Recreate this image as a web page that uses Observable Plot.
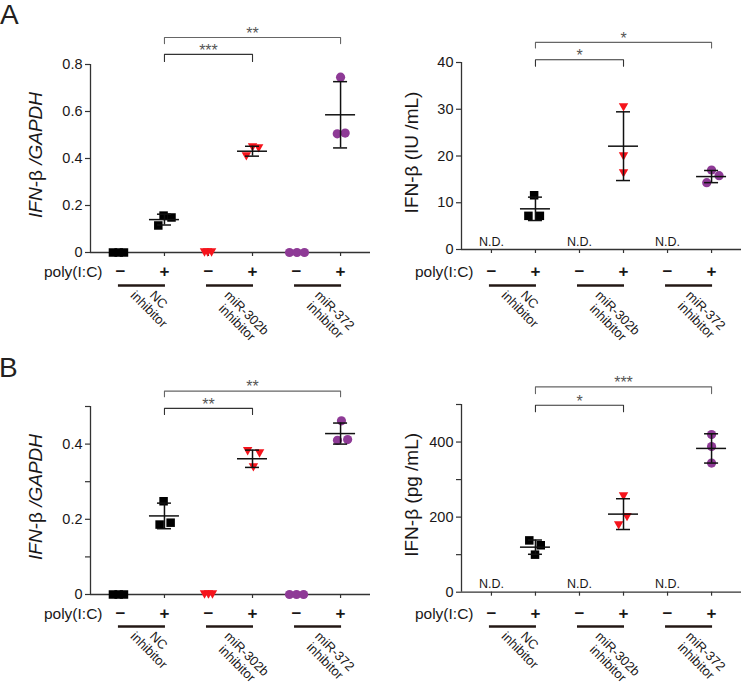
<!DOCTYPE html>
<html>
<head>
<meta charset="utf-8">
<script src="https://cdn.jsdelivr.net/npm/d3@7"></script>
<script src="https://cdn.jsdelivr.net/npm/@observablehq/plot@0.6"></script>
<style>
  html, body { margin: 0; padding: 0; background: #fff; }
  #root { position: relative; width: 742px; height: 686px; overflow: hidden;
          font-family: "Liberation Sans", Arial, sans-serif; color: #231f20; }
  .panel { position: absolute; width: 371px; height: 343px; }
  .letter { position: absolute; font-size: 28px; line-height: 28px; color: #231f20; }
</style>
</head>
<body>
<div id="root"></div>
<script>
// ---------------- categories / labels ----------------
const inhibitors = ["NC\ninhibitor", "miR-302b\ninhibitor", "miR-372\ninhibitor"];
const polyIC = ["−", "+", "−", "+", "−", "+"];
const polyLabel = "poly(I:C)";
const notDetected = "N.D.";
const groupColors = ["#000000", "#f5141c", "#8e3a96"];

// ---------------- Panel A left: IFN-β / GAPDH ----------------
const aMrna       = [[0, 0, 0], [0.115, 0.157, 0.149], [0, 0, 0], [0.409, 0.447, 0.443], [0, 0, 0], [0.746, 0.505, 0.508]];
const aMrnaJitter = [[-0.17, -0.04, 0.08], [-0.14, -0.02, 0.16], [-0.09, -0.02, 0.07], [-0.14, 0, 0.14], [-0.16, 0.01, 0.18], [0, -0.075, 0.105]];
const aMrnaMean   = [0.140, 0.431, 0.586];
const aMrnaSD     = [0.023, 0.021, 0.141];
const aMrnaTicks  = [0, 0.2, 0.4, 0.6, 0.8];
const aMrnaTickLabels = [0, 0.2, 0.4, 0.6, 0.8];
const aMrnaSig    = [{from: 1, to: 3, text: "***"}, {from: 1, to: 5, text: "**"}];
const aMrnaBracketY = [[0.843, 0.813], [0.915, 0.889]];

// ---------------- Panel A right: IFN-β (IU/mL) ----------------
const aProt       = [null, [11.6, 7.2, 7.2], null, [30.4, 19.9, 16.3], null, [17.0, 15.8, 14.3]];
const aProtJitter = [null, [-0.03, -0.16, 0.10], null, [0, 0, 0], null, [0, 0.17, -0.11]];
const aProtMean   = [8.7, 22.1, 15.6];
const aProtSD     = [2.5, 7.35, 1.3];
const aProtTicks  = [0, 10, 20, 30, 40];
const aProtTickLabels = [0, 10, 20, 30, 40];
const aProtSig    = [{from: 1, to: 3, text: "*"}, {from: 1, to: 5, text: "*"}];
const aProtBracketY = [[40.6, 39.2], [44.3, 43.1]];

// ---------------- Panel B left: IFN-β / GAPDH ----------------
const bMrna       = [[0, 0, 0], [0.248, 0.186, 0.191], [0, 0, 0], [0.381, 0.375, 0.338], [0, 0, 0], [0.462, 0.410, 0.412]];
const bMrnaJitter = [[-0.17, -0.04, 0.08], [-0.02, -0.11, 0.14], [-0.09, 0, 0.09], [-0.11, 0.16, 0.02], [-0.16, 0, 0.16], [0.02, -0.07, 0.16]];
const bMrnaMean   = [0.209, 0.361, 0.428];
const bMrnaSD     = [0.034, 0.023, 0.028];
const bMrnaTicks  = [0, 0.1, 0.2, 0.3, 0.4, 0.5];
const bMrnaTickLabels = [0, 0.2, 0.4];
const bMrnaSig    = [{from: 1, to: 3, text: "**"}, {from: 1, to: 5, text: "**"}];
const bMrnaBracketY = [[0.495, 0.479], [0.541, 0.526]];

// ---------------- Panel B right: IFN-β (pg/mL) ----------------
const bProt       = [null, [138, 125, 100], null, [255, 200, 178], null, [420, 388, 344]];
const bProtJitter = [null, [-0.14, 0.12, -0.01], null, [0, 0.08, -0.11], null, [0, 0, 0]];
const bProtMean   = [120, 208, 383];
const bProtSD     = [19, 41, 39];
const bProtTicks  = [0, 100, 200, 300, 400, 500];
const bProtTickLabels = [0, 200, 400];
const bProtSig    = [{from: 1, to: 3, text: "*"}, {from: 1, to: 5, text: "***"}];
const bProtBracketY = [[498, 481], [547, 529]];

// y-axis titles (italic flags per part)
const mrnaTitle = [{t: "IFN-", i: true}, {t: "β", i: false}, {t: " /GAPDH", i: true}];
const iuTitle = [{t: "IFN-β (IU /mL)", i: false}];
const pgTitle = [{t: "IFN-β (pg /mL)", i: false}];

// ---------------- layout ----------------
const FONT = '"Liberation Sans", Arial, sans-serif';
const W = 371, H = 343, ML = 90, MR = 1;
const xDomain = [-0.68, 5.68];
const INK = "#1a1718";
const AXIS = "#333333";

const panels = [
  {left: 0,   top: 0,   mt: 64, axisY: 252,   yMax: 0.8, pm: 271, line: 285, labelTop: 289, titleX: 41.5,
   values: aMrna, jitter: aMrnaJitter, mean: aMrnaMean, sd: aMrnaSD, ticks: aMrnaTicks, tickLabels: aMrnaTickLabels,
   sig: aMrnaSig, bracketY: aMrnaBracketY, title: mrnaTitle},
  {left: 371, top: 0,   mt: 62, axisY: 249,   yMax: 40,  pm: 271, line: 285, labelTop: 289, titleX: 46.5,
   values: aProt, jitter: aProtJitter, mean: aProtMean, sd: aProtSD, ticks: aProtTicks, tickLabels: aProtTickLabels,
   sig: aProtSig, bracketY: aProtBracketY, title: iuTitle},
  {left: 0,   top: 343, mt: 63, axisY: 251,   yMax: 0.5, pm: 270, line: 283, labelTop: 287, titleX: 41.5,
   values: bMrna, jitter: bMrnaJitter, mean: bMrnaMean, sd: bMrnaSD, ticks: bMrnaTicks, tickLabels: bMrnaTickLabels,
   sig: bMrnaSig, bracketY: bMrnaBracketY, title: mrnaTitle},
  {left: 371, top: 343, mt: 61, axisY: 248.7, yMax: 500, pm: 270, line: 283, labelTop: 287, titleX: 46.5,
   values: bProt, jitter: bProtJitter, mean: bProtMean, sd: bProtSD, ticks: bProtTicks, tickLabels: bProtTickLabels,
   sig: bProtSig, bracketY: bProtBracketY, title: pgTitle},
];

// custom downward triangle symbol (centred on its bounding box)
const triangleDown = {
  draw(ctx, size) {
    const r = Math.sqrt(size / Math.PI);
    const w = 2.1 * r, h = 1.85 * r;
    ctx.moveTo(-w / 2, -h / 2);
    ctx.lineTo(w / 2, -h / 2);
    ctx.lineTo(0, h / 2);
    ctx.closePath();
  }
};
const groupSymbols = ["square", triangleDown, "circle"];
const groupR = [4.8, 4.5, 4.6];

// text measurement for rotated category labels
const measureCtx = document.createElement("canvas").getContext("2d");
function textWidth(s, fs) {
  measureCtx.font = `${fs}px "Liberation Sans", Arial, sans-serif`;
  return measureCtx.measureText(s).width;
}
const LBL_FS = 13, LBL_LH = 1.05;
function rotatedExtent(text) {
  const lines = text.split("\n");
  const n = lines.length, a = 0.38 * LBL_FS;
  let xmin = Infinity, ymin = Infinity;
  lines.forEach((ln, k) => {
    const w = textWidth(ln, LBL_FS);
    const v = (k - (n - 1) / 2) * LBL_LH * LBL_FS;
    xmin = Math.min(xmin, Math.SQRT1_2 * (-w / 2 - (v + a)));
    ymin = Math.min(ymin, Math.SQRT1_2 * (-w / 2 + (v - a)));
  });
  return {xmin, ymin};
}

function drawPanel(p) {
  const mb = H - p.axisY;
  const pts = [];
  p.values.forEach((vals, i) => {
    if (!vals) return;
    vals.forEach((v, k) => pts.push({i, x: i + p.jitter[i][k], y: v, g: Math.floor(i / 2)}));
  });
  const stats = p.mean.map((m, k) => ({i: 2 * k + 1, mean: m, sd: p.sd[k]}));
  const groupRows = inhibitors.map((t, k) => ({k, i0: 2 * k, i1: 2 * k + 1, text: t}));
  const nd = p.values.map((v, i) => ({i, nd: !v})).filter(d => d.nd);
  const pmRows = polyIC.map((s, i) => ({i, s}));
  const brackets = [];
  p.sig.forEach((s, b) => {
    const [yt, yb] = p.bracketY[b];
    brackets.push({b, x: s.from, y: yb}, {b, x: s.from, y: yt}, {b, x: s.to, y: yt}, {b, x: s.to, y: yb});
  });
  const stars = p.sig.map((s, b) => ({x: (s.from + s.to) / 2, y: p.bracketY[b][0], text: s.text, b}));

  const pmDy = p.pm - p.axisY;

  const marks = [
    // axes lines
    Plot.ruleY([0], {stroke: AXIS, strokeWidth: 1.3}),
    Plot.ruleX([xDomain[0]], {y1: 0, y2: p.yMax, stroke: AXIS, strokeWidth: 1.3}),
    Plot.axisY(p.ticks, {
      tickSize: 5, tickPadding: 3, fontSize: 14.5, stroke: AXIS, strokeWidth: 1.2, fill: INK, label: null,
      tickFormat: d => p.tickLabels.includes(d) ? String(d) : ""
    }),
    Plot.axisX([0, 1, 2, 3, 4, 5], {
      tickSize: 4, stroke: AXIS, strokeWidth: 1.2, label: null, tickFormat: () => ""
    }),
    // poly(I:C) row
    Plot.text(pmRows, {
      x: "i", y: () => 0, text: "s", dy: pmDy, lineAnchor: "middle",
      fontSize: 17, fontWeight: "bold", fill: INK
    }),
    Plot.text([polyLabel], {
      frameAnchor: "bottom-left", textAnchor: "end", lineAnchor: "middle",
      dx: 12, dy: pmDy + 1, fontSize: 15.5, fill: INK
    }),
    // group underlines
    Plot.ruleY(groupRows, {
      x1: "i0", x2: "i1", y: () => 0, dy: p.line - p.axisY,
      insetLeft: -2, insetRight: -1, stroke: "#231815", strokeWidth: 2.3
    }),
    // rotated inhibitor labels
    ...groupRows.map(g => {
      const e = rotatedExtent(g.text);
      return Plot.text([g], {
        x: d => (d.i0 + d.i1) / 2, y: () => 0, text: "text", rotate: 45,
        textAnchor: "middle", lineAnchor: "middle", lineHeight: LBL_LH, fontSize: LBL_FS, fill: INK,
        dx: -13 - e.xmin, dy: (p.labelTop - p.axisY) - e.ymin
      });
    }),
    // N.D.
    Plot.text(nd, {x: "i", y: () => 0, text: () => notDetected, lineAnchor: "bottom", dy: -4, fontSize: 12.5, fill: INK}),
    // significance brackets
    Plot.line(brackets, {x: "x", y: "y", z: "b", stroke: d => d.b === 0 ? "#333" : "#666", strokeWidth: 1.1, curve: "linear"}),
    Plot.text(stars, {x: "x", y: "y", text: "text", lineAnchor: "middle", dy: -3.8, fontSize: 16, fill: "#555"}),
    // points
    ...[0, 1, 2].map(g => Plot.dot(pts.filter(d => d.g === g), {
      x: "x", y: "y", symbol: groupSymbols[g], r: groupR[g], fill: groupColors[g], stroke: "none"
    })),
    // mean ± SD
    Plot.ruleX(stats, {x: "i", y1: d => d.mean - d.sd, y2: d => d.mean + d.sd, stroke: "#111", strokeWidth: 1.5}),
    Plot.ruleY(stats, {x1: "i", x2: "i", y: "mean", insetLeft: -15, insetRight: -15, stroke: "#111", strokeWidth: 1.5}),
    Plot.ruleY(stats, {x1: "i", x2: "i", y: d => d.mean + d.sd, insetLeft: -7, insetRight: -7, stroke: "#111", strokeWidth: 1.5}),
    Plot.ruleY(stats, {x1: "i", x2: "i", y: d => d.mean - d.sd, insetLeft: -7, insetRight: -7, stroke: "#111", strokeWidth: 1.5}),
  ];

  const svg = Plot.plot({
    width: W, height: H,
    marginLeft: ML, marginRight: MR, marginTop: p.mt, marginBottom: mb,
    x: {domain: xDomain, axis: null},
    y: {domain: [0, p.yMax], axis: null},
    style: {fontFamily: FONT, fontSize: "14px", color: INK, background: "transparent", overflow: "visible"},
    marks
  });

  // y-axis title with mixed italic
  const frameMid = (p.mt + p.axisY) / 2 - 3;
  const t = d3.select(svg).append("text")
    .attr("transform", `translate(${p.titleX},${frameMid}) rotate(-90)`)
    .attr("text-anchor", "middle")
    .attr("font-size", 19)
    .attr("font-family", FONT)
    .attr("fill", INK);
  p.title.forEach(part => t.append("tspan").attr("font-style", part.i ? "italic" : "normal").text(part.t));

  const div = document.createElement("div");
  div.className = "panel";
  div.style.left = p.left + "px";
  div.style.top = p.top + "px";
  div.appendChild(svg);
  document.getElementById("root").appendChild(div);
}

panels.forEach(drawPanel);

// panel letters
[["A", 0, 1.3], ["B", -1, 354.3]].forEach(([s, x, y]) => {
  const d = document.createElement("div");
  d.className = "letter";
  d.style.left = x + "px";
  d.style.top = y + "px";
  d.textContent = s;
  document.getElementById("root").appendChild(d);
});
</script>
</body>
</html>
